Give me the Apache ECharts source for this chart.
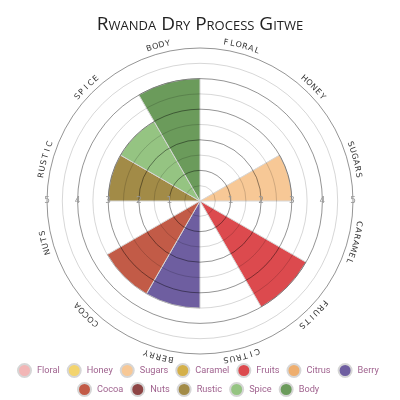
<!DOCTYPE html>
<html>
<head>
<meta charset="utf-8">
<script src="https://cdn.jsdelivr.net/npm/echarts@6/dist/echarts.min.js"></script>
<style>
  html, body { margin: 0; padding: 0; background: #fff; }
  #chart { width: 400px; height: 400px; }
</style>
</head>
<body>
<div id="chart"></div>
<script>
// flavour wheel data
const categories = ['Floral', 'Honey', 'Sugars', 'Caramel', 'Fruits', 'Citrus', 'Berry', 'Cocoa', 'Nuts', 'Rustic', 'Spice', 'Body'];
const scores = [0, 0, 3, 0, 4, 0, 3.5, 3.5, 0, 3, 3, 4];
const colors = ['#f2b6b6', '#f3d46e', '#f7c896', '#d4b04a', '#dc4a4e', '#eeae6e', '#6e5ea0', '#c25b47', '#8e4545', '#a28b47', '#95c482', '#6b9b5b'];
const maxScore = 5;
const labelRadius = 5.25;

const chart = echarts.init(document.getElementById('chart'));

const barSeries = categories.map((name, i) => ({
  name: name,
  type: 'bar',
  coordinateSystem: 'polar',
  polarIndex: 0,
  stack: 'flavour',
  barCategoryGap: '0%',
  data: scores.map((v, j) => (j === i ? v : null)),
  itemStyle: { color: colors[i], borderColor: '#d6d6d6', borderWidth: 1 }
}));

// curved category names along the outer ring
const labelSeries = {
  type: 'custom',
  coordinateSystem: 'polar',
  polarIndex: 0,
  silent: true,
  z: 6,
  data: categories.map(c => [labelRadius, c]),
  renderItem: function (params, api) {
    const cs = params.coordSys;
    const p = api.coord([api.value(0), api.value(1)]);
    const cx = cs.cx, cy = cs.cy;
    const R = Math.sqrt((p[0] - cx) * (p[0] - cx) + (p[1] - cy) * (p[1] - cy));
    const thetaC = Math.atan2(p[0] - cx, cy - p[1]);
    const text = categories[params.dataIndex].toUpperCase();
    const pitch = 6.4;
    const children = [];
    for (let i = 0; i < text.length; i++) {
      const th = thetaC + (i - (text.length - 1) / 2) * pitch / R;
      children.push({
        type: 'text',
        x: cx + R * Math.sin(th),
        y: cy - R * Math.cos(th),
        rotation: -th,
        style: {
          text: text[i],
          fontSize: 8,
          fontFamily: 'DejaVu Sans',
          fill: '#333',
          align: 'center',
          verticalAlign: 'middle'
        }
      });
    }
    return { type: 'group', children: children };
  }
};

const tickLabel = {
  margin: 0,
  align: 'center',
  verticalAlign: 'middle',
  color: '#999',
  fontSize: 9,
  fontFamily: 'DejaVu Sans',
  formatter: v => (v === 0 ? '' : String(v))
};

const legendBase = {
  icon: 'circle',
  itemWidth: 15,
  itemHeight: 13,
  itemGap: 7,
  textStyle: { color: '#a0638f', fontSize: 9.2, fontFamily: 'Roboto' }
};

const option = {
  title: {
    text: 'Rwanda Dry Process Gitwe',
    left: 'center',
    top: 10,
    textStyle: { fontSize: 19, fontStyle: 'small-caps', fontWeight: 'normal', fontFamily: 'Open Sans', color: '#222' }
  },
  color: colors,
  legend: [
    Object.assign({ top: 358, left: 12, data: categories.slice(0, 7) }, legendBase),
    Object.assign({ top: 377, left: 72, data: categories.slice(7) }, legendBase)
  ],
  polar: [
    { center: [200, 201], radius: 153 },
    { center: [200, 201], radius: 153 },
    { center: [200, 201], radius: 153 }
  ],
  angleAxis: [
    {
      polarIndex: 0, type: 'category', data: categories, startAngle: 90, clockwise: true,
      axisLine: { show: false },
      axisTick: { show: false }, axisLabel: { show: false }, splitLine: { show: false }
    },
    { polarIndex: 1, type: 'value', startAngle: 0, min: 0, max: 360, show: false },
    { polarIndex: 2, type: 'value', startAngle: 180, min: 0, max: 360, show: false }
  ],
  radiusAxis: [
    {
      polarIndex: 0, min: 0, max: maxScore, interval: 0.5, z: 5,
      axisLine: { show: false }, axisTick: { show: false }, axisLabel: { show: false },
      splitLine: { lineStyle: { color: ['rgba(0,0,0,0.42)', 'rgba(0,0,0,0.16)'], width: 1 } }
    },
    {
      polarIndex: 1, min: 0, max: maxScore, interval: 1, z: 5,
      axisLine: { show: false }, axisTick: { show: false }, splitLine: { show: false },
      axisLabel: tickLabel
    },
    {
      polarIndex: 2, min: 0, max: maxScore, interval: 1, z: 5,
      axisLine: { show: false }, axisTick: { show: false }, splitLine: { show: false },
      axisLabel: tickLabel
    }
  ],
  series: barSeries.concat([labelSeries])
};

chart.setOption(option);
</script>
</body>
</html>
